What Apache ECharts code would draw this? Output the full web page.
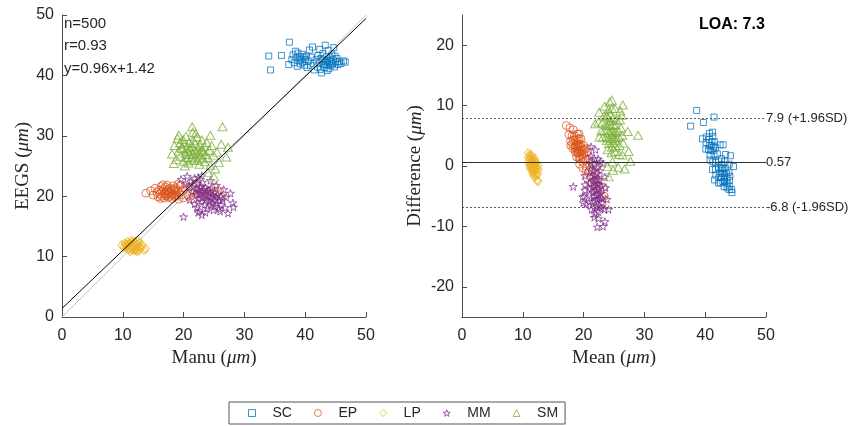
<!DOCTYPE html>
<html>
<head>
<meta charset="utf-8">
<script src="https://cdn.jsdelivr.net/npm/echarts@6/dist/echarts.min.js"></script>
<style>
html, body { margin: 0; padding: 0; background: #fff; }
#chart { width: 850px; height: 426px; }
</style>
</head>
<body>
<div id="chart"></div>
<script>
// groups, legend order
var groups = ['SC', 'EP', 'LP', 'MM', 'SM'];
var colors = ['#0072BD', '#D95319', '#EDB120', '#7E2F8E', '#77AC30'];

// paired readings (Manu, EEGS) per group
var scManu = [34.0, 34.3, 36.1, 37.4, 37.3, 37.8, 38.0, 38.2, 38.4, 38.5, 38.7, 38.8, 39.0, 39.1, 39.2, 39.3, 39.5, 39.6, 39.8, 39.9,
  40.0, 40.2, 40.3, 40.5, 40.7, 40.9, 41.2, 41.4, 41.5, 41.8, 42.0, 42.1, 42.3, 42.5, 42.6, 42.7, 42.8, 42.9, 43.0, 43.1,
  43.2, 43.3, 43.4, 43.5, 43.6, 43.7, 43.8, 43.9, 44.0, 44.1, 44.2, 44.3, 44.4, 44.5, 44.6, 44.7, 44.8, 45.0, 45.2, 45.4,
  45.6, 45.9, 46.3, 46.6, 42.4, 41.0, 44.9, 43.6];
var scEegs = [43.2, 40.9, 43.3, 45.5, 41.8, 42.6, 43.4, 42.1, 44.0, 42.9, 41.5, 43.7, 42.4, 43.1, 41.9, 42.7, 43.5, 42.2, 43.0, 41.7,
  42.6, 43.2, 41.3, 42.4, 44.2, 41.6, 44.7, 42.0, 40.9, 42.6, 41.4, 43.3, 42.1, 41.0, 42.8, 40.4, 42.4, 43.6, 41.8, 42.6,
  41.3, 45.0, 42.2, 43.1, 41.7, 42.5, 44.1, 41.1, 42.3, 42.9, 41.6, 42.0, 43.4, 41.9, 42.6, 44.6, 41.4, 42.2, 42.8, 41.8,
  42.3, 42.0, 42.4, 42.2, 44.3, 43.0, 43.2, 40.8];

var epManu = [13.8, 14.6, 15.0, 15.3, 15.6, 15.8, 16.0, 16.1, 16.3, 16.4, 16.5, 16.7, 16.8, 16.9, 17.0, 17.1, 17.2, 17.3, 17.4, 17.5,
  17.6, 17.7, 17.8, 17.9, 18.0, 18.1, 18.2, 18.3, 18.4, 18.5, 18.6, 18.7, 18.8, 18.9, 19.0, 19.2, 19.3, 19.5, 19.6, 19.8,
  20.0, 20.3, 20.5, 20.8, 21.0, 21.3, 21.6, 21.9, 22.2, 22.5, 22.8, 23.1, 23.5, 23.8, 24.2, 24.6, 25.0, 25.5, 25.9, 16.2,
  17.0, 17.5, 18.0, 18.5, 16.6, 19.1, 22.0, 26.2];
var epEegs = [20.5, 20.9, 20.2, 21.3, 20.6, 19.9, 21.0, 20.4, 21.6, 20.0, 20.8, 21.2, 19.7, 20.5, 21.5, 20.1, 20.9, 21.8, 20.3, 19.8,
  20.7, 21.3, 20.0, 20.6, 21.1, 19.6, 20.4, 21.7, 20.9, 20.2, 19.9, 21.4, 20.6, 20.1, 21.0, 19.5, 20.5, 21.8, 20.2, 20.8,
  19.7, 21.3, 20.4, 20.0, 21.6, 20.6, 19.6, 21.0, 20.3, 21.4, 19.9, 20.7, 21.2, 20.1, 20.8, 19.8, 21.5, 20.4, 20.9, 19.6,
  20.3, 21.0, 20.2, 21.2, 21.9, 22.0, 22.1, 19.9];

var lpManu = [9.8, 10.1, 10.3, 10.5, 10.6, 10.7, 10.8, 10.9, 11.0, 11.1, 11.2, 11.3, 11.4, 11.5, 11.5, 11.6, 11.7, 11.8, 11.8, 11.9,
  12.0, 12.1, 12.1, 12.2, 12.3, 12.4, 12.5, 12.6, 12.7, 12.8, 13.0, 13.2, 13.5, 13.8, 11.0, 11.4, 12.0, 12.3, 10.4, 11.6,
  12.9, 11.2, 12.5, 11.9];
var lpEegs = [11.9, 11.6, 12.2, 11.4, 12.0, 11.7, 12.4, 11.2, 11.9, 12.2, 11.5, 12.0, 11.8, 11.3, 12.3, 11.6, 12.0, 11.4, 11.9, 12.5,
  11.7, 11.1, 12.1, 11.5, 11.9, 11.3, 11.8, 12.2, 11.0, 11.6, 11.4, 11.9, 11.1, 11.3, 11.3, 12.6, 12.4, 10.9, 11.9, 11.1,
  12.3, 10.9, 12.6, 11.2];

var mmManu = [19.6, 20.0, 20.3, 20.6, 20.9, 21.2, 21.4, 21.6, 21.8, 22.0, 22.1, 22.3, 22.4, 22.5, 22.6, 22.7, 22.8, 22.9, 23.0, 23.1,
  23.2, 23.3, 23.4, 23.5, 23.6, 23.7, 23.8, 23.9, 24.0, 24.1, 24.2, 24.3, 24.4, 24.5, 24.6, 24.7, 24.8, 24.9, 25.0, 25.1,
  25.2, 25.3, 25.5, 25.6, 25.8, 25.9, 26.1, 26.2, 26.4, 26.6, 26.8, 27.0, 27.3, 27.7, 28.2, 28.1, 21.0, 21.8, 22.4, 23.0,
  24.4, 25.4, 23.6, 22.4, 23.0, 22.2, 26.0];
var mmEegs = [22.8, 16.6, 22.0, 23.3, 21.5, 22.4, 20.8, 21.9, 23.0, 21.2, 20.3, 22.1, 19.6, 21.0, 17.6, 20.4, 21.6, 19.1, 20.7, 22.3,
  19.8, 21.1, 18.6, 20.2, 21.4, 19.4, 20.8, 18.0, 20.0, 21.0, 19.2, 20.5, 18.5, 19.7, 21.3, 18.9, 20.1, 17.7, 19.4, 20.6,
  18.3, 19.9, 18.8, 20.3, 17.9, 19.3, 20.0, 18.6, 19.5, 21.1, 18.1, 19.8, 17.2, 20.5, 18.2, 18.9, 19.4, 18.7, 23.1, 23.4,
  22.6, 21.8, 17.3, 17.3, 16.9, 18.2, 17.5];

var smManu = [18.1, 18.5, 18.8, 19.0, 19.2, 19.4, 19.5, 19.9, 19.8, 20.0, 20.1, 20.3, 20.4, 20.5, 20.6, 20.7, 20.8, 20.9, 21.0, 21.1,
  21.4, 21.3, 21.4, 21.5, 21.6, 21.7, 21.8, 21.9, 22.0, 22.1, 22.2, 22.3, 22.4, 22.5, 22.6, 22.7, 22.8, 22.9, 23.0, 23.1,
  23.2, 23.4, 23.5, 23.6, 23.8, 24.0, 24.2, 24.4, 24.6, 24.9, 25.2, 25.5, 25.8, 26.2, 26.4, 27.3, 25.0, 20.2, 21.5, 19.6,
  22.0, 24.4, 27.0, 18.4, 24.0, 19.2];
var smEegs = [27.0, 28.4, 26.1, 29.6, 27.5, 28.8, 26.6, 29.4, 27.9, 25.8, 28.6, 27.1, 29.9, 26.4, 28.1, 27.4, 25.5, 28.9, 26.9, 27.8,
  31.5, 26.2, 28.3, 27.0, 29.2, 25.9, 27.6, 28.7, 26.5, 27.3, 29.8, 26.0, 28.0, 27.1, 25.3, 28.5, 26.7, 27.7, 29.3, 26.2,
  27.4, 28.2, 25.7, 26.9, 28.9, 26.4, 27.6, 25.1, 28.4, 26.8, 24.5, 27.3, 25.6, 28.6, 31.5, 28.1, 23.2, 25.0, 30.6, 28.0,
  30.4, 30.1, 26.5, 25.4, 23.9, 30.1];

var manuData = [scManu, epManu, lpManu, mmManu, smManu];
var eegsData = [scEegs, epEegs, lpEegs, mmEegs, smEegs];

// regression fit shown on the left panel: slope, intercept
var fitCoef = [0.96, 1.42];
var axisRange = [0, 50];
// Bland-Altman limits
var limitValues = [7.9, 0.57, -6.8];
var limitLabels = ['7.9 (+1.96SD)', '0.57', '-6.8 (-1.96SD)'];
var diffTicks = [-20, -10, 0, 10, 20];
var statsText = ['n=500', 'r=0.93', 'y=0.96x+1.42'];
var loaText = 'LOA: 7.3';

var starPath = 'path://M50,0 L61,35 L98,35 L68,57 L79,91 L50,70 L21,91 L32,57 L2,35 L39,35 Z';
var symbols = ['rect', 'circle', 'diamond', starPath, 'triangle'];
var symbolSizes = [6, 8, [7, 9], 8, [9, 8]];

var sansFont = '"Liberation Sans", Arial, sans-serif';
var serifFont = '"Liberation Serif", "DejaVu Serif", serif';
var textColor = '#262626';
var axisColor = '#4d4d4d';

var myChart = echarts.init(document.getElementById('chart'));

function axisCommon(labelMargin) {
  return {
    axisLine: { show: true, onZero: false, lineStyle: { color: axisColor, width: 1 } },
    axisTick: { show: true, inside: true, length: 5, lineStyle: { color: axisColor } },
    axisLabel: { color: textColor, fontSize: 16, fontFamily: sansFont, margin: labelMargin },
    splitLine: { show: false },
    nameLocation: 'middle',
    nameTextStyle: {
      color: textColor,
      rich: {
        a: { fontFamily: serifFont, fontSize: 19, color: textColor },
        i: { fontFamily: serifFont, fontSize: 19, fontStyle: 'italic', color: textColor }
      }
    }
  };
}

var series = [];
groups.forEach(function (g, k) {
  var pairs = manuData[k].map(function (m, i) { return [m, eegsData[k][i]]; });
  var ba = manuData[k].map(function (m, i) {
    var e = eegsData[k][i];
    return [+((m + e) / 2).toFixed(2), +(e - m).toFixed(2)];
  });
  var style = { color: 'transparent', borderColor: colors[k], borderWidth: 1, opacity: 0.75 };
  series.push({
    name: g, type: 'scatter', xAxisIndex: 0, yAxisIndex: 0,
    symbol: symbols[k], symbolSize: symbolSizes[k], symbolKeepAspect: true,
    itemStyle: style, data: pairs, z: 2
  });
  series.push({
    name: g, type: 'scatter', xAxisIndex: 1, yAxisIndex: 1,
    symbol: symbols[k], symbolSize: symbolSizes[k], symbolKeepAspect: true,
    itemStyle: style, data: ba, z: 2
  });
});

// identity line and regression line
series.push({
  name: 'identity', type: 'line', xAxisIndex: 0, yAxisIndex: 0, showSymbol: false, silent: true,
  lineStyle: { color: '#c8c8c8', width: 1 },
  data: [[axisRange[0], axisRange[0]], [axisRange[1], axisRange[1]]], z: 4
});
series.push({
  name: 'fit', type: 'line', xAxisIndex: 0, yAxisIndex: 0, showSymbol: false, silent: true,
  lineStyle: { color: '#000', width: 1 },
  data: axisRange.map(function (x) { return [x, fitCoef[0] * x + fitCoef[1]]; }), z: 5
});
// mean difference and limits of agreement
series.push({
  name: 'limits', type: 'scatter', xAxisIndex: 1, yAxisIndex: 1, data: [], silent: true,
  markLine: {
    silent: true, symbol: 'none', animation: false,
    data: limitValues.map(function (v, i) {
      return {
        yAxis: v,
        lineStyle: i === 1 ? { color: '#333', width: 1.2, type: 'solid' } : { color: '#333', width: 0.8, type: [2, 2] },
        label: { formatter: limitLabels[i] }
      };
    }),
    label: { show: true, position: 'end', distance: 0, color: textColor, fontSize: 13, fontFamily: sansFont }
  },
  z: 3
});

var option = {
  animation: false,
  backgroundColor: '#fff',
  grid: [
    { left: 62, top: 15, width: 304, height: 302 },
    { left: 462, top: 15, width: 304, height: 302 }
  ],
  xAxis: [
    Object.assign(axisCommon(11), {
      gridIndex: 0, type: 'value', min: 0, max: 50, interval: 10,
      name: '{a|Manu (}{i|μm}{a|)}', nameGap: 30
    }),
    Object.assign(axisCommon(11), {
      gridIndex: 1, type: 'value', min: 0, max: 50, interval: 10,
      name: '{a|Mean (}{i|μm}{a|)}', nameGap: 30
    })
  ],
  yAxis: [
    Object.assign(axisCommon(8), {
      gridIndex: 0, type: 'value', min: 0, max: 50, interval: 10,
      name: '{a|EEGS (}{i|μm}{a|)}', nameGap: 29
    }),
    Object.assign(axisCommon(8), {
      gridIndex: 1, type: 'value', min: -25, max: 25,
      name: '{a|Difference (}{i|μm}{a|)}', nameGap: 37
    })
  ],
  legend: {
    data: groups,
    left: 229, top: 402,
    padding: [4, 7, 4, 19],
    itemWidth: 7, itemHeight: 7, itemGap: 22,
    borderColor: '#555', borderWidth: 1,
    itemStyle: { borderWidth: 1, color: 'transparent' },
    textStyle: { fontSize: 14, fontFamily: sansFont, color: textColor, padding: [0, 0, 0, 12] }
  },
  graphic: statsText.map(function (t, i) {
    return {
      type: 'text', left: 64, top: 16 + i * 22.7,
      style: { text: t, fontSize: 15, fontFamily: sansFont, fill: textColor }
    };
  }).concat([{
    type: 'text', left: 699, top: 17,
    style: { text: loaText, fontSize: 16, fontWeight: 'bold', fontFamily: sansFont, fill: '#000' }
  }]),
  series: series
};
option.yAxis[1].axisLabel.customValues = diffTicks;
option.yAxis[1].axisTick.customValues = diffTicks;

myChart.setOption(option);
</script>
</body>
</html>
